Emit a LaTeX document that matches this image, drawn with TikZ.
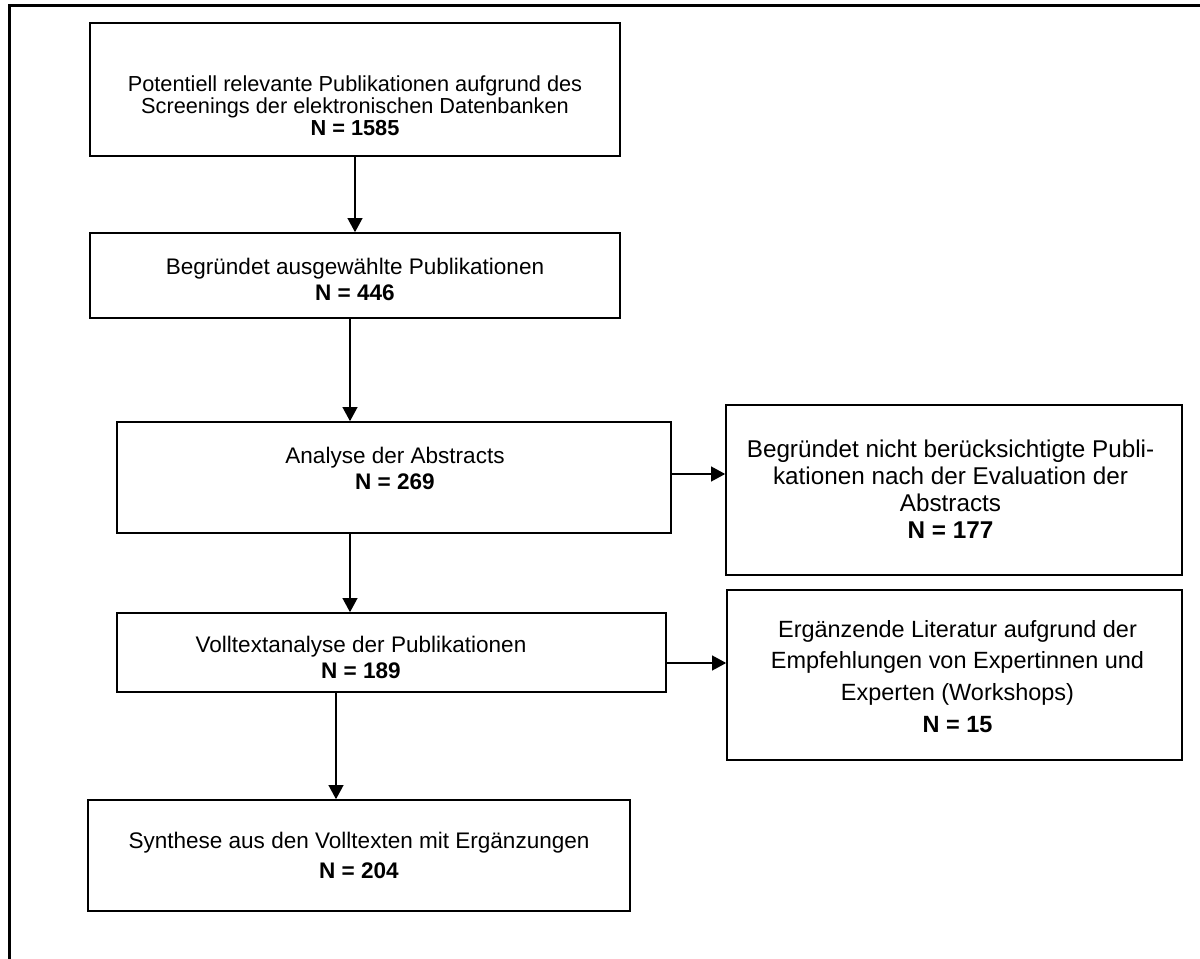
\documentclass[tikz,border=0pt]{standalone}
\usepackage{fontspec}
\setmainfont{Liberation Sans}
\usetikzlibrary{arrows.meta}
\begin{document}
\begin{tikzpicture}[x=0.75pt,y=-0.75pt,
  box/.style={draw=black,line width=1.2pt,rectangle,inner sep=0pt},
  txt/.style 2 args={anchor=north,inner sep=0pt,align=center,font=\fontsize{#1}{#2}\selectfont},
  arr/.style={line width=1.4pt,-{Triangle[length=10.5pt,width=11pt]}},
  frame/.style={line width=2.2pt}]
\useasboundingbox (0,0) rectangle (1200,959);
\fill[white] (0,0) rectangle (1200,959);
% outer frame (only top and left visible)
\coordinate (fl) at (9.5,959);
\coordinate (fc) at (9.5,5.7);
\coordinate (fr) at (1200,5.7);
\draw[frame] (fl) -- (fc) -- (fr);
% boxes
\node[box,minimum width=397.5pt,minimum height=99.75pt] (b1) at (355,89.5) {};
\node[box,minimum width=397.5pt,minimum height=63.75pt] (b2) at (355,275.5) {};
\node[box,minimum width=415.5pt,minimum height=83.25pt] (b3) at (394,477.5) {};
\node[box,minimum width=342pt,minimum height=127.5pt] (b4) at (954,490) {};
\node[box,minimum width=411.75pt,minimum height=59.25pt] (b5) at (391.5,652.5) {};
\node[box,minimum width=341.25pt,minimum height=127.5pt] (b6) at (954.5,675) {};
\node[box,minimum width=406.5pt,minimum height=83.25pt] (b7) at (359,855.5) {};
% texts
\node[txt={16.3}{16.5pt}] (t1) at (355,75.1) {Potentiell relevante Publikationen aufgrund des\\Screenings der elektronischen Datenbanken\\\textbf{N = 1585}};
\node[txt={16.9}{19.5pt}] (t2) at (355,258) {Begründet ausgewählte Publikationen\\\textbf{N = 446}};
\node[txt={16.9}{19.5pt}] (t3) at (395,447) {Analyse der Abstracts\\\textbf{N = 269}};
\node[txt={18.2}{20.25pt}] (t4) at (950.5,439.3) {Begründet nicht berücksichtigte Publi-\\kationen nach der Evaluation der\\Abstracts\\\textbf{N = 177}};
\node[txt={16.9}{19.5pt}] (t5) at (361,636) {Volltextanalyse der Publikationen\\\textbf{N = 189}};
\node[txt={17.6}{23.8pt}] (t6) at (957.5,619.9) {Ergänzende Literatur aufgrund der\\Empfehlungen von Expertinnen und\\Experten (Workshops)\\\textbf{N = 15}};
\node[txt={16.9}{22.5pt}] (t7) at (359,832.2) {Synthese aus den Volltexten mit Ergänzungen\\\textbf{N = 204}};
% connector guides
\coordinate (a2) at (350,0);
\coordinate (a4) at (336,0);
\coordinate (h1) at (0,474);
\coordinate (h2) at (0,663);
% connectors
\draw[arr] (b1.south) -- (b2.north);
\draw[arr] (b2.south -| a2) -- (b3.north -| a2);
\draw[arr] (b3.south -| a2) -- (b5.north -| a2);
\draw[arr] (b5.south -| a4) -- (b7.north -| a4);
\draw[arr] (b3.east |- h1) -- (b4.west |- h1);
\draw[arr] (b5.east |- h2) -- (b6.west |- h2);
\end{tikzpicture}
\end{document}
